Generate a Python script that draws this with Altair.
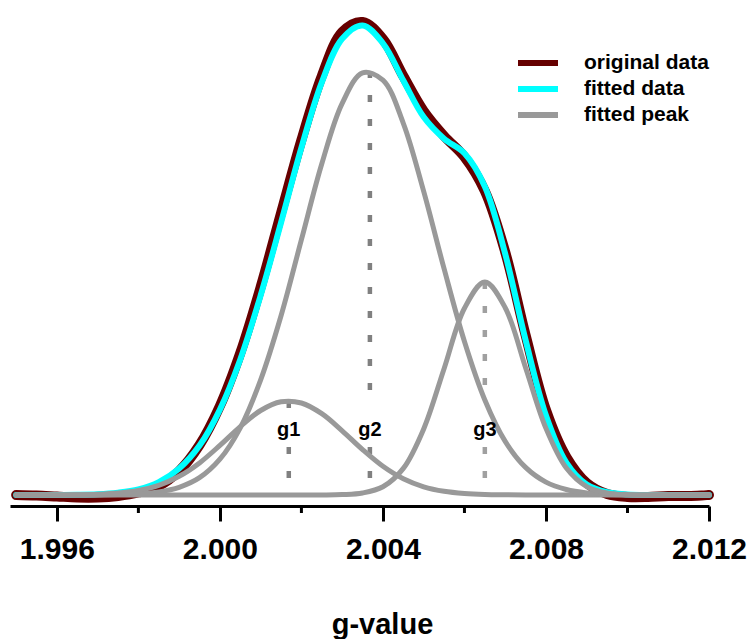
import altair as alt
import pandas as pd

# ---- data ----
g_value = [1.9950, 1.9955, 1.9960, 1.9965, 1.9970, 1.9975, 1.9980, 1.9985, 1.9990, 1.9995,
           2.0000, 2.0005, 2.0010, 2.0015, 2.0020, 2.0025, 2.0030, 2.0035, 2.0040, 2.0045,
           2.0050, 2.0055, 2.0060, 2.0065, 2.0070, 2.0075, 2.0080, 2.0085, 2.0090, 2.0095,
           2.0100, 2.0105, 2.0110, 2.0115, 2.0120]

original = [0, -0.5, -1.5, -2.5, -2.5, -1.0, 2.5, 9, 24, 50,
            89, 142, 208, 282, 355, 419, 463, 473, 456, 419,
            384, 359, 338, 304, 243, 160, 85, 38, 12, 1,
            -2, -2, -1, -1, 0]

fitted = [0, 0, 0.1, 0.2, 0.7, 2.3, 5.6, 12.8, 26.4, 49.4,
          85.4, 135.6, 199.6, 272.4, 347.3, 412.6, 456.2, 469.5, 451.7, 414.5,
          377.9, 356.3, 341.8, 308.5, 241.1, 154.9, 79.5, 32.4, 10.5, 2.8,
          0.6, 0, 0, 0, 0]

peak_g1 = [0, 0, 0.1, 0.2, 0.7, 1.9, 4.5, 9.7, 18.7, 32.1,
           49.6, 68.4, 84.5, 93.2, 92.0, 81.3, 64.2, 45.4, 28.7, 16.2,
           8.2, 3.7, 1.5, 0.5, 0.2, 0.05, 0, 0, 0, 0,
           0, 0, 0, 0, 0]

peak_g2 = [0, 0, 0, 0, 0.03, 0.4, 1.1, 3.1, 7.7, 17.3,
           35.8, 67.2, 115.1, 179.2, 255.3, 331.2, 391.6, 422.1, 414.8, 371.7,
           303.6, 226.3, 153.5, 95.0, 53.6, 27.6, 12.9, 5.5, 2.1, 0.8,
           0.25, 0, 0, 0, 0]

peak_g3 = [0, 0, 0, 0, 0, 0, 0, 0, 0, 0,
           0, 0, 0, 0, 0, 0.05, 0.4, 2.0, 8.2, 26.6,
           66.1, 126.3, 186.8, 213.0, 187.3, 127.3, 66.6, 26.9, 8.4, 2.0,
           0.37, 0, 0, 0, 0]

series_names = ["original data", "fitted data", "fitted peak"]
series_colors = ["#660000", "#00ffff", "#999999"]

peak_names = ["g1", "g2", "g3"]
peak_center = [2.00169, 2.00368, 2.00650]
peak_height = [94, 424, 213]
dash_upper_end = [86, 100, 100]
dash_lower_start = [48, 48, 48]
label_level = [65, 65, 65]
dash_shade = ["dark", "dark", "light"]

major_ticks = [1.996, 2.000, 2.004, 2.008, 2.012]
minor_ticks = [1.998, 2.002, 2.006, 2.010]

# ---- tables ----
rows = []
for name, series, vals in [("orig", "original data", original),
                           ("fit", "fitted data", fitted),
                           ("g1", "fitted peak", peak_g1),
                           ("g2", "fitted peak", peak_g2),
                           ("g3", "fitted peak", peak_g3)]:
    for gx, v in zip(g_value, vals):
        rows.append({"g": gx, "v": v, "series": series, "curve": name})
curves = pd.DataFrame(rows)

seg_rows = []
for i in range(len(peak_names)):
    seg_rows.append({"g": peak_center[i], "v": peak_height[i], "v2": dash_upper_end[i],
                     "shade": dash_shade[i]})
    seg_rows.append({"g": peak_center[i], "v": dash_lower_start[i], "v2": 0,
                     "shade": dash_shade[i]})
segs = pd.DataFrame(seg_rows)

labels = pd.DataFrame({"g": peak_center, "v": label_level, "t": peak_names})

Y_MIN, Y_MAX = -11, 488
minor_df = pd.DataFrame({"g": minor_ticks, "v": [Y_MIN] * len(minor_ticks),
                         "v2": [Y_MIN - 7] * len(minor_ticks)})

FONT = "Liberation Sans"

x_scale = alt.Scale(domain=[1.99485, 2.012], nice=False, zero=False)
y_scale = alt.Scale(domain=[Y_MIN, Y_MAX], nice=False, zero=False)
color_scale = alt.Scale(domain=series_names, range=series_colors)

x_axis = alt.Axis(
    values=major_ticks, format=".3f",
    tickSize=15, tickWidth=3, tickColor="black",
    domainWidth=3, domainColor="black",
    grid=False,
    labelFont=FONT, labelFontSize=30, labelFontWeight="bold", labelColor="black",
    labelPadding=13, labelFlush=False, labelOverlap=False,
    title="g-value", titleFont=FONT, titleFontSize=29, titleFontWeight="bold",
    titleColor="black", titleX=372, titleY=127, titleBaseline="alphabetic",
)

legend = alt.Legend(
    orient="none", legendX=515, legendY=43,
    symbolType="M-2,0L2,0", symbolSize=400, symbolStrokeWidth=6,
    labelFont=FONT, labelFontSize=21, labelFontWeight="bold", labelColor="black",
    labelOffset=33, rowPadding=1, padding=0,
)

X = alt.X("g:Q", scale=x_scale, axis=x_axis)
Y = alt.Y("v:Q", scale=y_scale, axis=None)
Y2 = alt.Y2("v2:Q")
C = alt.Color("series:N", scale=color_scale, legend=legend, title=None)

base = alt.Chart(curves)

orig_layer = base.transform_filter("datum.curve == 'orig'").mark_line(
    interpolate="catmull-rom", strokeCap="round", strokeJoin="round", strokeWidth=10
).encode(x=X, y=Y, color=C)

fit_layer = base.transform_filter("datum.curve == 'fit'").mark_line(
    interpolate="catmull-rom", strokeCap="round", strokeWidth=6
).encode(x=X, y=Y, color=C)

peak_layer = base.transform_filter(
    "datum.curve == 'g1' || datum.curve == 'g2' || datum.curve == 'g3'"
).mark_line(interpolate="catmull-rom", strokeCap="round", strokeWidth=5).encode(
    x=X, y=Y, color=C, detail="curve:N"
)

dash_dark = alt.Chart(segs).transform_filter("datum.shade == 'dark'").mark_rule(
    strokeWidth=4.5, strokeDash=[7, 17], color="#808080"
).encode(x=X, y=Y, y2=Y2)

dash_light = alt.Chart(segs).transform_filter("datum.shade == 'light'").mark_rule(
    strokeWidth=4.5, strokeDash=[7, 17], color="#a0a0a0"
).encode(x=X, y=Y, y2=Y2)

text_layer = alt.Chart(labels).mark_text(
    font=FONT, fontSize=20, fontWeight="bold", color="black", baseline="middle", align="center"
).encode(x=X, y=Y, text="t:N")

minor_layer = alt.Chart(minor_df).mark_rule(color="black", strokeWidth=3).encode(
    x=X, y=Y, y2=Y2
)

chart = alt.layer(
    orig_layer, fit_layer, dash_dark, dash_light, peak_layer, text_layer, minor_layer
).properties(
    width=699, height=499,
    padding={"left": 10, "top": 7, "right": 43, "bottom": 133},
    autosize=alt.AutoSizeParams(type="none"),
    background="white",
).configure_view(strokeWidth=0)

chart.save("out.html", embed_options={"renderer": "svg", "actions": False})
